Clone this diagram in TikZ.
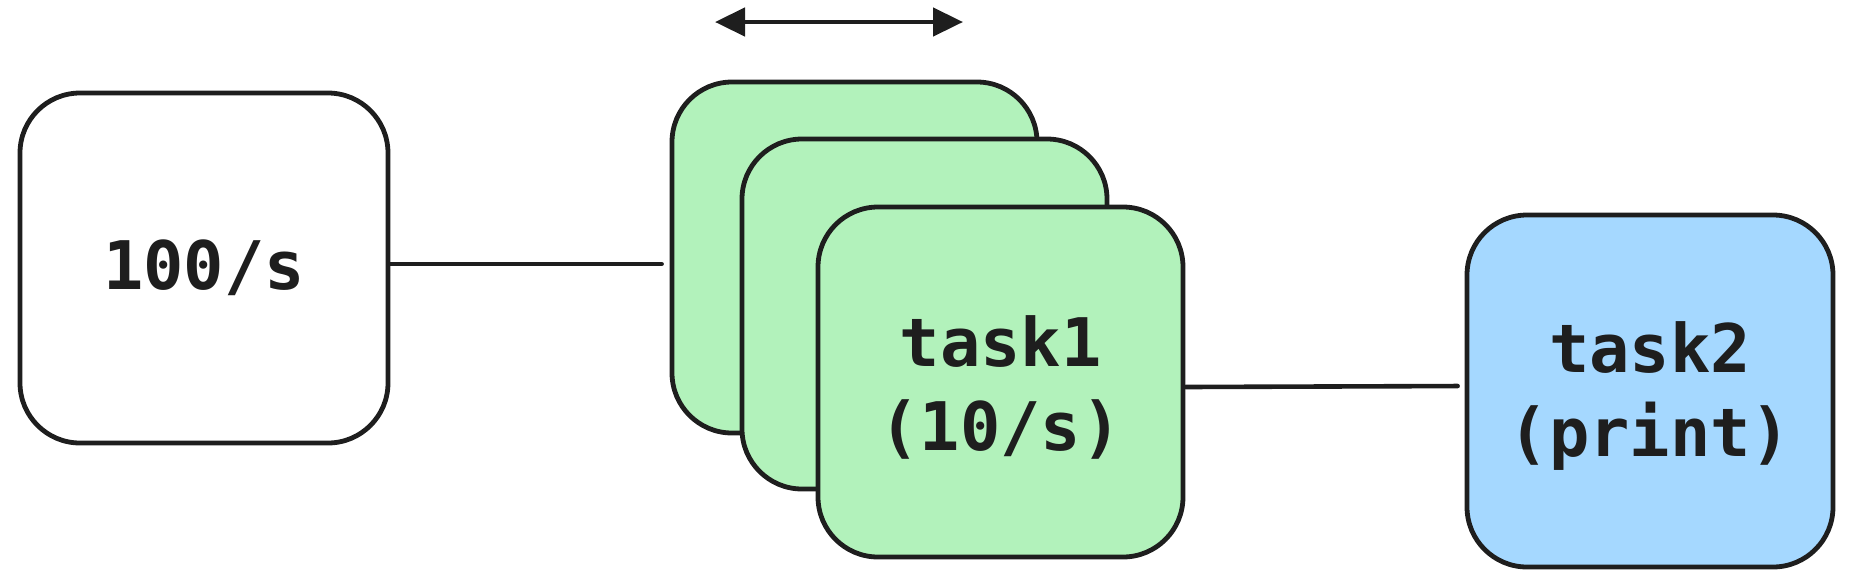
\documentclass[tikz,border=0pt]{standalone}
\usepackage{fontspec}
\newfontfamily\codefont{DejaVu Sans Mono}
\usetikzlibrary{arrows.meta}
\definecolor{ink}{HTML}{1E1E1E}
\definecolor{gfill}{HTML}{B2F2BB}
\definecolor{bfill}{HTML}{A5D8FF}
\tikzset{
  card/.style={draw=ink, line width=2.4pt, rounded corners=30pt, inner sep=0pt},
  cardtext/.style={align=center, text=ink, inner sep=0pt,
    font=\codefont\bfseries\fontsize{33.5}{42}\selectfont},
  wire/.style={draw=ink, line width=2.3pt, line cap=round},
}
\begin{document}
\begin{tikzpicture}[x=0.5pt,y=-0.5pt]
\useasboundingbox (0,0) rectangle (1853,585);
\node[card, fill=white, minimum width=184pt, minimum height=175pt] (src) at (204,268) {};
\node[cardtext] (srctxt) at (src.center) {100/s};
\node[card, fill=gfill, minimum width=182.5pt, minimum height=175.5pt] (g1) at (854.5,257.5) {};
\node[card, fill=gfill, minimum width=182.5pt, minimum height=175pt] (g2) at (924.5,314) {};
\node[card, fill=gfill, minimum width=182.5pt, minimum height=175pt] (g3) at (1000.5,382) {};
\node[cardtext] (g3txt) at ([yshift=-2.5pt]g3.center) {task1\\(10/s)};
\node[card, fill=bfill, minimum width=183pt, minimum height=176pt] (t2) at (1650,391) {};
\node[cardtext] (t2txt) at ([yshift=-2.5pt]t2.center) {task2\\(print)};
\draw[wire, shorten >=4pt] ([yshift=2pt]src.east) -- ([yshift=2pt]src.east -| g1.west);
\draw[wire, shorten >=3.5pt] ([yshift=-2.5pt]g3.east) -- ([yshift=-2pt]g3.east -| t2.west);
\coordinate (wl) at (715,22);
\coordinate (wr) at (963,22);
\draw[wire, {Triangle[length=15pt,width=14pt]}-{Triangle[length=15pt,width=14pt]}] (wl) -- (wr);
\end{tikzpicture}
\end{document}
